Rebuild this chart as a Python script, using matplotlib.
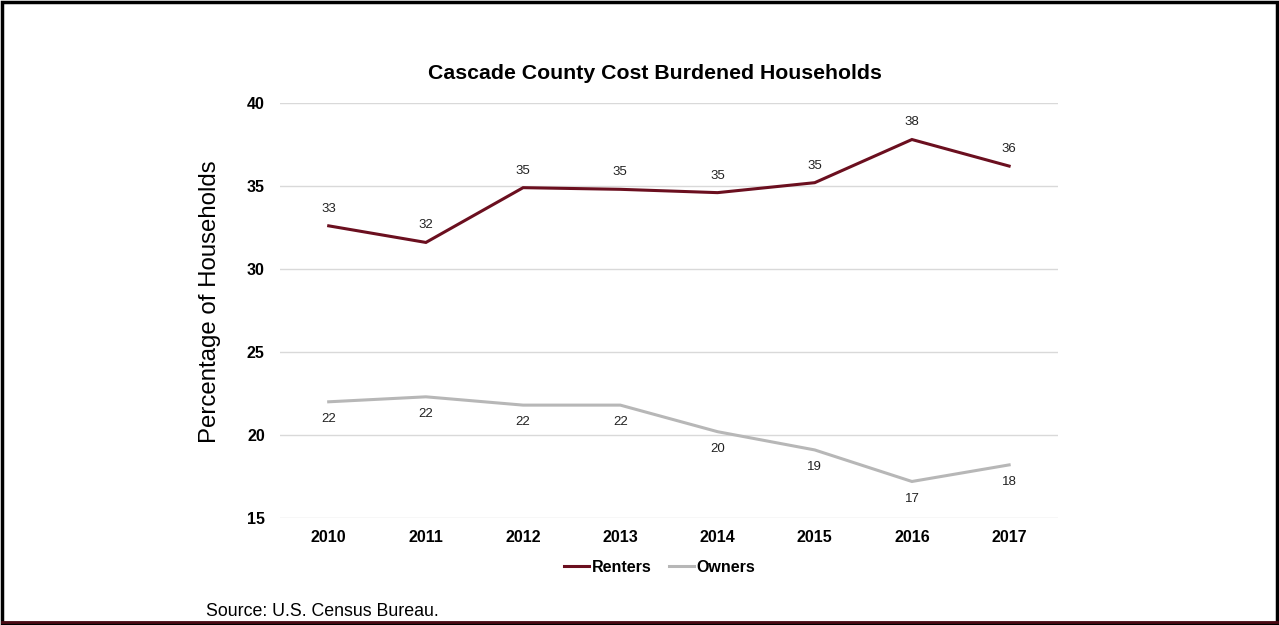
import matplotlib.pyplot as plt
from matplotlib.patches import Rectangle

plt.rcParams['font.family'] = ['Liberation Sans', 'DejaVu Sans']

years = ['2010', '2011', '2012', '2013', '2014', '2015', '2016', '2017']
renters = [32.6, 31.6, 34.9, 34.8, 34.6, 35.2, 37.8, 36.2]
owners = [22.0, 22.3, 21.8, 21.8, 20.2, 19.1, 17.2, 18.2]
yticks = [15, 20, 25, 30, 35, 40]

renter_color = '#6b0f1f'
owner_color = '#b7b7b7'

fig = plt.figure(figsize=(12.79, 6.25), dpi=100)
ax = fig.add_axes([0.219, 0.1712, 0.608, 0.664])

x = range(len(years))
ax.plot(x, renters, color=renter_color, linewidth=2.2, label='Renters', solid_joinstyle='miter')
ax.plot(x, owners, color=owner_color, linewidth=2.2, label='Owners', solid_joinstyle='miter')

# value labels: renters above the line, owners below
for i, v in enumerate(renters):
    ax.annotate(f'{v:.0f}', (i, v), xytext=(0, 8), textcoords='offset points',
                ha='center', va='bottom', fontsize=9.5, color='#222222')
for i, v in enumerate(owners):
    ax.annotate(f'{v:.0f}', (i, v), xytext=(0, -8), textcoords='offset points',
                ha='center', va='top', fontsize=9.5, color='#222222')

ax.set_xlim(-0.5, len(years) - 0.5)
ax.set_ylim(15, 40)
ax.set_xticks(list(x))
ax.set_xticklabels(years, fontsize=11.5, fontweight='bold')
ax.set_yticks(yticks)
ax.set_yticklabels([str(t) for t in yticks], fontsize=11.5, fontweight='bold')
ax.tick_params(axis='y', length=0, pad=11)
ax.tick_params(axis='x', length=0, pad=9)
ax.grid(axis='y', color='#d9d9d9', linewidth=1)
ax.set_axisbelow(True)
for s in ax.spines.values():
    s.set_visible(False)

ax.set_ylabel('Percentage of Households', fontsize=17.3)
ax.yaxis.set_label_coords(-0.076, 0.522)
ax.set_title('Cascade County Cost Burdened Households', fontsize=15.3,
             fontweight='bold', pad=17, x=0.482)

fig.legend(loc='center', bbox_to_anchor=(0.5157, 0.092), ncol=2, frameon=False,
           prop={'size': 11.5, 'weight': 'bold'}, handlelength=1.6,
           handletextpad=0.15, columnspacing=1.1)

fig.text(0.161, 0.008, 'Source: U.S. Census Bureau.', fontsize=12.8, va='bottom')

# outer frame
fig.patches.append(Rectangle((0.0015, 0.004), 0.997, 0.993, transform=fig.transFigure,
                             fill=False, edgecolor='black', linewidth=2.5))
fig.add_artist(plt.Line2D([0.0015, 0.9985], [0.005, 0.005], transform=fig.transFigure,
                          color='#4a0a14', linewidth=2))

fig.savefig('out.png', dpi=100)
